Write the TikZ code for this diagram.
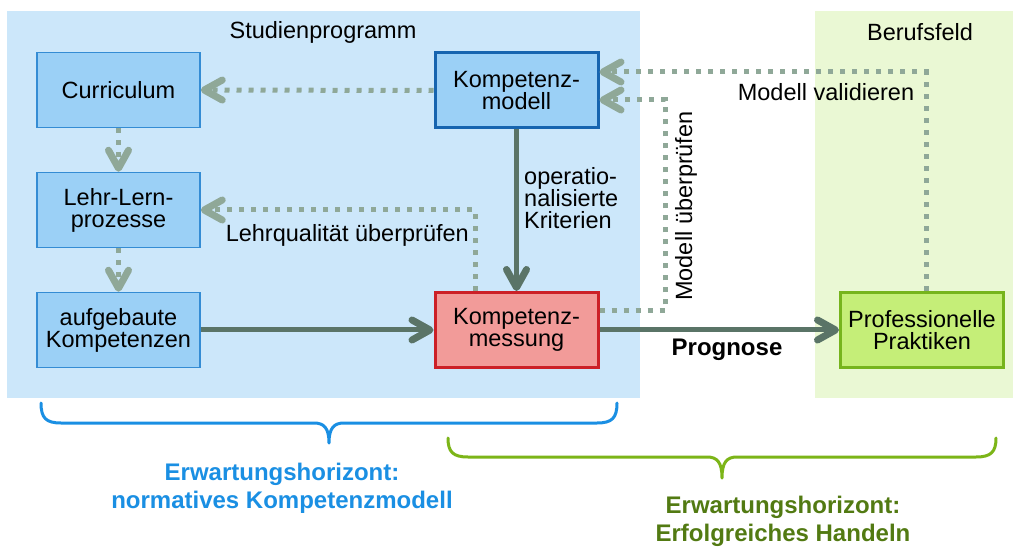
\documentclass[tikz,border=0pt]{standalone}
\usepackage{fontspec}
\setmainfont{Liberation Sans}
\usetikzlibrary{arrows.meta,calc}
\definecolor{bgblue}{RGB}{204,231,250}
\definecolor{bggreen}{RGB}{234,248,212}
\definecolor{boxblue}{RGB}{155,208,246}
\definecolor{edgeblue}{RGB}{52,140,212}
\definecolor{edgedark}{RGB}{22,100,175}
\definecolor{boxred}{RGB}{242,155,153}
\definecolor{edgered}{RGB}{204,32,39}
\definecolor{boxgreen}{RGB}{197,238,120}
\definecolor{edgegreen}{RGB}{118,180,28}
\definecolor{dotc}{RGB}{143,168,152}
\definecolor{solidc}{RGB}{90,116,103}
\definecolor{braceblue}{RGB}{26,143,227}
\definecolor{bracegreen}{RGB}{124,181,24}
\definecolor{textgreen}{RGB}{82,122,18}
\begin{document}
\begin{tikzpicture}[x=1pt,y=-1pt,
  txt/.style={font=\fontsize{23.5}{22}\selectfont, align=center, inner sep=0pt},
  boldtxt/.style={font=\fontsize{24}{28}\selectfont\bfseries, align=center, inner sep=0pt},
  box/.style={txt, draw=edgeblue, line width=1.5pt, fill=boxblue, minimum width=163pt, minimum height=75pt},
  thickbox/.style={box, line width=3pt},
  tipstyle/.style={-{Straight Barb[length=18pt,width=20pt,line width=7pt,round]}},
  dotarrow/.style={draw=dotc, line width=5pt, dash pattern=on 5pt off 7pt, tipstyle},
  solidarrow/.style={draw=solidc, line width=5pt, tipstyle},
  bracelinestyle/.style={line width=3pt, line cap=round, line join=round}
]
\useasboundingbox (0,0) rectangle (1013,548);
\fill[white] (0,0) rectangle (1013,548);
\fill[bgblue] (7,11) rectangle (640,398);
\fill[bggreen] (815,11) rectangle (1013,398);

\node[txt] (stud) at (323,32) {Studienprogramm};
\node[txt] (beruf) at (920,32) {Berufsfeld};

\node[box] (cur) at (118.5,90) {Curriculum};
\node[box] (lehr) at (118.5,210) {Lehr-Lern-\\prozesse};
\node[box] (aufg) at (118.5,330) {aufgebaute\\Kompetenzen};
\node[thickbox, draw=edgedark] (kmod) at (516.5,90.5) {Kompetenz-\\modell};
\node[thickbox, draw=edgered, fill=boxred] (kmess) at (516.5,330) {Kompetenz-\\messung};
\node[thickbox, draw=edgegreen, fill=boxgreen] (prof) at (922,330) {Professionelle\\Praktiken};

\coordinate (mu) at (665,200);

\draw[dotarrow] (kmod.west) -- (cur.east);
\draw[dotarrow] (cur.south) -- (lehr.north);
\draw[dotarrow] (lehr.south) -- (aufg.north);
\draw[dotarrow] ([xshift=-41.5pt]kmess.north) |- (lehr.east);
\draw[dotarrow] ([yshift=19pt]kmess.east) -| (mu) |- ([yshift=-9.5pt]kmod.east);
\draw[dotarrow] ([xshift=4pt]prof.north) |- ([yshift=18.5pt]kmod.east);

\draw[solidarrow] (aufg.east) -- (kmess.west);
\draw[solidarrow] (kmod.south) -- (kmess.north);
\draw[solidarrow] (kmess.east) -- (prof.west);

\node[txt, anchor=east] (lq) at (469,235) {Lehrqualität überprüfen};
\node[txt, anchor=west, align=left] (opk) at (524,198) {operatio-\\nalisierte\\Kriterien};
\node[txt, rotate=90] (mue) at (686,206) {Modell überprüfen};
\node[txt] (mva) at (826,92) {Modell validieren};
\node[boldtxt] (prog) at (727,350) {Prognose};

\draw[braceblue, bracelinestyle] (41,403) .. controls (41,418) and (46,423) .. (61,423) -- (314,423) .. controls (324,423) and (329,428) .. (329,443) .. controls (329,428) and (334,423) .. (344,423) -- (597,423) .. controls (612,423) and (617,418) .. (617,403);
\draw[bracegreen, bracelinestyle] (448,438) .. controls (448,452) and (453,457) .. (468,457) -- (707,457) .. controls (717,457) and (722,462) .. (722,478) .. controls (722,462) and (727,457) .. (737,457) -- (976,457) .. controls (991,457) and (996,452) .. (996,438);

\node[boldtxt, text=braceblue] (eh1) at (282,488) {Erwartungshorizont:\\normatives Kompetenzmodell};
\node[boldtxt, text=textgreen] (eh2) at (783,521) {Erwartungshorizont:\\Erfolgreiches Handeln};
\end{tikzpicture}
\end{document}
